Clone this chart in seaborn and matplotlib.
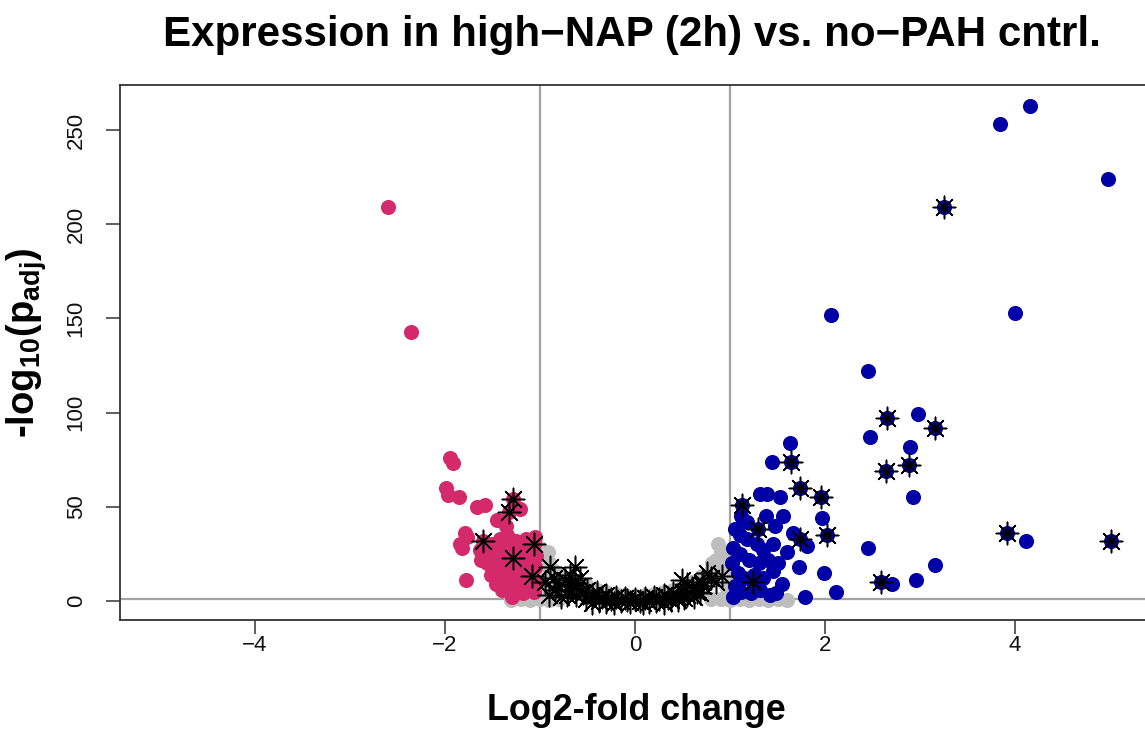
import matplotlib
matplotlib.use('Agg')
import matplotlib.pyplot as plt
import pandas as pd
import seaborn as sns

# ---------------- data ----------------
# non-significant genes (grey)
ns_lfc = [-1.00, -0.97, -0.95, -0.92, -0.90, -0.88, -0.85, -0.82, -0.80, -0.75,
          -0.70, -0.65, -0.60, -0.55, -0.50, -0.45, -0.40, -0.35, -0.30, -0.25,
          -0.20, -0.15, -0.10, -0.05, 0.00, 0.05, 0.10, 0.15, 0.20, 0.25,
          0.30, 0.35, 0.40, 0.45, 0.50, 0.55, 0.60, 0.65, 0.70, 0.75,
          0.80, 0.81, 0.85, 0.87, 0.90, 0.92, 0.95, 0.98, 0.96, 0.98,
          -1.30, -1.20, -1.10, -1.00, -0.90, -0.80, 0.80, 0.90, 1.00, 1.10,
          1.20, 1.30, 1.40, 1.50, 1.60, -1.05, -0.95, -1.02, -0.98]
ns_padj = [28, 22, 15, 26, 20, 12, 16, 10, 14, 8,
           12, 7, 10, 6, 8, 5, 6, 4, 4.5, 3,
           3.5, 2.5, 3, 2, 2.5, 2, 3, 2.5, 3.5, 3,
           4.5, 4, 6, 5, 8, 7, 10, 9, 13, 11,
           16, 20, 22, 30, 26, 18, 24, 14, 8, 21,
           0.5, 0.8, 0.3, 1.0, 0.6, 1.0, 0.8, 1.0, 0.5, 1.0,
           0.4, 0.9, 0.6, 1.0, 0.7, 5, 3, 18, 9]

# significantly down-regulated (pink)
down_lfc = [-2.60, -2.36, -1.95, -1.92, -1.99, -1.97, -1.85, -1.66, -1.58, -1.28,
            -1.21, -1.33, -1.45, -1.36, -1.77, -1.82, -1.60, -1.63, -1.28, -1.06,
            -1.08, -1.78, -1.45, -1.29, -1.84, -1.79,
            -1.50, -1.42, -1.35, -1.25, -1.15, -1.05, -1.10, -1.20, -1.30, -1.40,
            -1.48, -1.38, -1.30, -1.20, -1.12, -1.04, -1.05, -1.15, -1.25, -1.35,
            -1.42, -1.50, -1.03, -1.12, -1.22, -1.32, -1.40, -1.18, -1.06, -1.55,
            -1.52, -1.46, -1.38, -1.27, -1.17, -1.09, -1.33, -1.23, -1.13, -1.43,
            -1.36, -1.26, -1.16, -1.56, -1.62]
down_padj = [209, 143, 76, 73, 60, 56, 55, 50, 51, 54,
             49, 47, 43, 40, 34, 28, 32, 27, 23, 30,
             13, 11, 11, 2, 30, 36,
             30, 33, 35, 32, 33, 34, 28, 27, 28, 25,
             22, 20, 18, 20, 22, 24, 18, 15, 14, 14,
             16, 18, 10, 8, 8, 6, 6, 4, 5, 25,
             14, 9, 10, 11, 10, 14, 24, 17, 18, 29,
             31, 25, 27, 20, 22]

# significantly up-regulated (blue)
up_lfc = [4.16, 3.84, 4.98, 3.25, 2.06, 4.00, 2.45, 2.65, 2.98, 3.16,
          2.47, 2.89, 2.88, 2.64, 2.93, 2.45, 3.16, 2.96, 2.59, 2.70,
          3.91, 4.12, 5.01,
          1.63, 1.64, 1.44, 1.32, 1.39, 1.53, 1.74, 1.96, 1.13, 1.56,
          1.97, 1.47, 1.29, 2.02, 1.74, 1.66, 1.81, 1.60, 1.73, 1.99,
          2.12, 1.79, 1.24,
          1.05, 1.10, 1.18, 1.28, 1.35, 1.45, 1.40, 1.30, 1.20, 1.10,
          1.03, 1.02, 1.08, 1.15, 1.25, 1.35, 1.45, 1.50, 1.05, 1.12,
          1.22, 1.32, 1.42, 1.03, 1.55, 1.48, 1.12, 1.18, 1.38]
up_padj = [263, 253, 224, 209, 152, 153, 122, 97, 99, 92,
           87, 82, 72, 69, 55, 28, 19, 11, 10, 9,
           36, 32, 32,
           84, 74, 74, 57, 57, 55, 60, 55, 51, 45,
           44, 40, 38, 35, 33, 36, 29, 26, 18, 15,
           5, 2, 10,
           38, 35, 33, 30, 27, 30, 22, 20, 22, 25,
           28, 20, 15, 12, 14, 12, 16, 20, 8, 5,
           4, 6, 3, 2, 9, 4, 45, 42, 45]

# highlighted genes (asterisks)
hl_lfc = [-1.28, -1.33, -1.60, -1.28, -1.06, -1.08,
          3.25, 2.65, 3.16, 2.88, 2.64, 2.59, 3.91, 5.01, 1.64, 1.74,
          1.96, 1.13, 1.29, 2.02, 1.74, 1.24,
          -0.89, -0.63, -0.84, -0.74, 0.49, 0.76, 0.92, -0.95, -0.80, -0.70,
          -0.68, -0.60, -0.55, -0.58, -0.50, -0.45, -0.40, -0.35, -0.30, -0.25,
          -0.20, -0.15, -0.10, -0.05, 0.00, 0.05, 0.10, 0.15, 0.20, 0.25,
          0.30, 0.35, 0.40, 0.45, 0.50, 0.55, 0.55, 0.60, 0.65, 0.70,
          0.72, 0.80, 0.85, -0.62, -0.45, -0.30, 0.30, 0.45, -0.85, -0.90,
          -0.78, -0.52, -0.38, -0.22, -0.08, 0.08, 0.22, 0.38, 0.52, -0.66,
          0.62, -0.72, 0.68]
hl_padj = [54, 47, 32, 23, 30, 13,
           209, 97, 92, 72, 69, 10, 36, 32, 74, 60,
           55, 51, 38, 35, 33, 10,
           18, 18, 6, 11, 11, 15, 13, 10, 8, 6,
           14, 8, 4, 12, 6, 3, 5, 2, 3, 1,
           2, 0, 1.5, -0.5, 1, 0, 1.5, -0.5, 2, 1,
           3, 1.5, 4, 2, 5, 3, 9, 7, 5, 10,
           8, 12, 10, 3, -1, -0.5, -1, 0.5, 12, 3,
           2, 1, 0, -1, 0.5, -1, 0, 0.5, 1.5, 9,
           2, 3, 4]

x_ticks = [-4, -2, 0, 2, 4]
y_ticks = [0, 50, 100, 150, 200, 250]
lfc_cut = [-1, 1]
padj_cut = 1.3

# ---------------- styling ----------------
sns.set_style('white')
plt.rcParams['font.family'] = ['Liberation Sans', 'DejaVu Sans']
plt.rcParams['mathtext.fontset'] = 'custom'
plt.rcParams['mathtext.rm'] = 'Liberation Sans:bold'
plt.rcParams['mathtext.it'] = 'Liberation Sans:bold'
plt.rcParams['mathtext.default'] = 'rm'

W, H = 1145, 729
fig = plt.figure(figsize=(W / 100, H / 100), dpi=100)
left, right, top, bottom = 120, 1150, 85, 620
ax = fig.add_axes([left / W, 1 - bottom / H, (right - left) / W, (bottom - top) / H])

ns = pd.DataFrame({'lfc': ns_lfc, 'padj': ns_padj})
dn = pd.DataFrame({'lfc': down_lfc, 'padj': down_padj})
up = pd.DataFrame({'lfc': up_lfc, 'padj': up_padj})
hl = pd.DataFrame({'lfc': hl_lfc, 'padj': hl_padj})

dot_s = 118
sns.scatterplot(data=ns, x='lfc', y='padj', color='#BEBEBE', s=dot_s, linewidth=0,
                ax=ax, legend=False, zorder=2)
sns.scatterplot(data=dn, x='lfc', y='padj', color='#D42A6B', s=dot_s, linewidth=0,
                ax=ax, legend=False, zorder=3)
sns.scatterplot(data=up, x='lfc', y='padj', color='#0000A6', s=dot_s, linewidth=0,
                ax=ax, legend=False, zorder=3)
sns.scatterplot(data=hl, x='lfc', y='padj', color='black', marker=(8, 2, 0), s=260,
                linewidth=1.1, ax=ax, legend=False, zorder=4)

line_c = '#A3A3A3'
for v in lfc_cut:
    ax.axvline(v, color=line_c, lw=1.6, zorder=1)
ax.axhline(padj_cut, color=line_c, lw=1.6, zorder=1)

ax.set_xlim(-5.42, 5.42)
ax.set_ylim(-10.1, 273.9)
ax.set_xticks(x_ticks)
ax.set_xticklabels([f'{t}'.replace('-', '\u2212') for t in x_ticks])
ax.set_yticks(y_ticks)
ax.set_yticklabels([str(t) for t in y_ticks], rotation=90, va='center')
ax.tick_params(axis='both', which='major', bottom=True, left=True,
               direction='out', length=10, width=1.1, color='#333333',
               labelsize=16, labelcolor='#111111')
ax.tick_params(axis='x', pad=0.5)
ax.tick_params(axis='y', pad=14)
ax.set_xlabel('')
ax.set_ylabel('')
for sp in ax.spines.values():
    sp.set_color('#333333')
    sp.set_linewidth(1.3)
ax.grid(False)

fig.text(632 / W, 1 - 46 / H, 'Expression in high\u2212NAP (2h) vs. no\u2212PAH cntrl.',
         ha='center', va='baseline', fontsize=30.3, fontweight='bold', color='black')
fig.text(636 / W, 1 - 720 / H, 'Log2-fold change', ha='center', va='baseline',
         fontsize=25.8, fontweight='bold', color='black')
fig.text(27 / W, 1 - 343 / H, r'-log$_{10}$(p$_{adj}$)', ha='center', va='center',
         rotation=90, fontsize=27.5, fontweight='bold', color='black')

fig.savefig('out.png', dpi=100)
